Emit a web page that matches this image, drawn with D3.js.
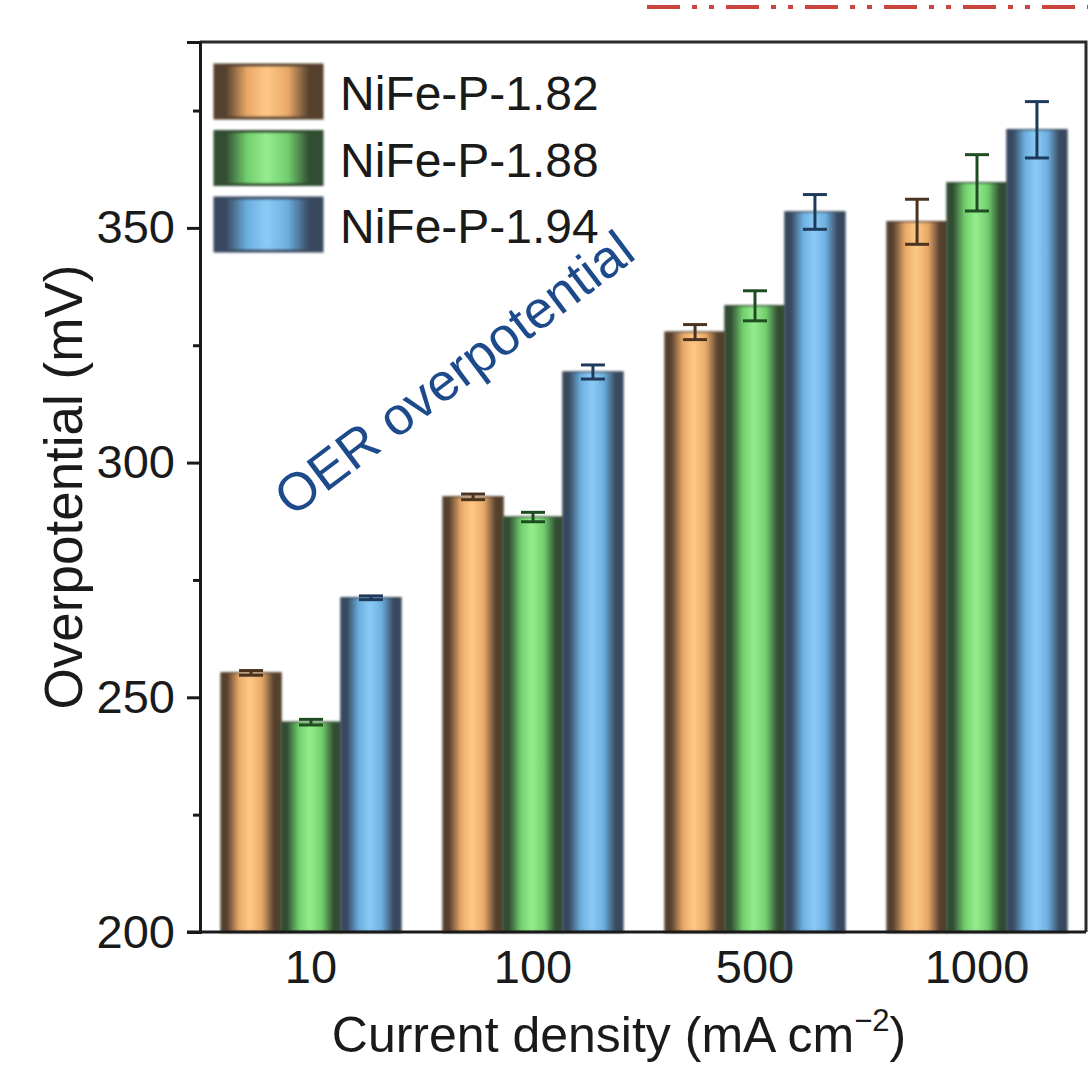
<!DOCTYPE html>
<html>
<head>
<meta charset="utf-8">
<script src="https://cdn.jsdelivr.net/npm/d3@7"></script>
<style>
  html, body { margin: 0; padding: 0; background: #ffffff; }
  svg { display: block; }
  text { font-family: "Liberation Sans", Arial, Helvetica, sans-serif; fill: #1a1a1a; }
</style>
</head>
<body>
<svg id="chart" width="1088" height="1070"></svg>
<script>
// Overpotential at each current density for three NiFe-P samples
const categories = ["10", "100", "500", "1000"];
const seriesNames = ["NiFe-P-1.82", "NiFe-P-1.88", "NiFe-P-1.94"];
const values182 = [255.2, 292.7, 327.8, 351.3];
const values188 = [244.7, 288.4, 333.4, 359.6];
const values194 = [271.2, 319.3, 353.4, 370.9];
const errors182 = [0.5, 0.6, 1.6, 4.8];
const errors188 = [0.6, 1.0, 3.2, 6.0];
const errors194 = [0.4, 1.5, 3.7, 6.0];
const majorTicks = [200, 250, 300, 350];
const minorTicks = [225, 275, 325, 375];

// fill palettes per series: edge, mid, highlight, error-bar colour
const palettes = [
  { id: "g182", edge: "#55402f", mid: "#eaa968", light: "#ffc887", err: "#4a3420" },
  { id: "g188", edge: "#324d33", mid: "#72d06e", light: "#96ec8e", err: "#1f4d22" },
  { id: "g194", edge: "#38495e", mid: "#6cafe0", light: "#8ccbf6", err: "#1e3a5a" }
];

const rows = categories.map((c, i) => ({
  cat: c,
  items: [
    { s: 0, v: values182[i], e: errors182[i] },
    { s: 1, v: values188[i], e: errors188[i] },
    { s: 2, v: values194[i], e: errors194[i] }
  ]
}));

const svg = d3.select("#chart");
const plotLeft = 200, plotRight = 1086, plotTop = 42, plotBottom = 932;

const x = d3.scaleBand().domain(categories).range([plotLeft, 1088]).paddingInner(0.19).paddingOuter(0.095);
const xs = d3.scaleBand().domain([0, 1, 2]).range([0, x.bandwidth()]);
const y = d3.scaleLinear().domain([200, 389.6]).range([plotBottom, plotTop]);

// cylinder-like shading gradients
const defs = svg.append("defs");
palettes.forEach(p => {
  const g = defs.append("linearGradient").attr("id", p.id)
    .attr("x1", "0%").attr("x2", "100%").attr("y1", "0%").attr("y2", "0%");
  [[0, p.edge], [0.1, p.edge], [0.3, p.mid], [0.48, p.light], [0.68, p.mid], [0.88, p.edge], [1, p.edge]]
    .forEach(([o, c]) => g.append("stop").attr("offset", o).attr("stop-color", c));
});
defs.append("filter").attr("id", "soft").append("feGaussianBlur").attr("stdDeviation", 0.8);

// decorative dash-dot rule along the top edge
svg.append("line")
  .attr("x1", 647).attr("x2", 1088).attr("y1", 7).attr("y2", 7)
  .attr("stroke", "#c9453d").attr("stroke-width", 4)
  .attr("stroke-dasharray", "33 12 5 12 5 12");

// bars
const groups = svg.append("g").selectAll("g").data(rows).join("g")
  .attr("transform", d => `translate(${x(d.cat)},0)`);

groups.selectAll("rect").data(d => d.items).join("rect")
  .attr("x", d => xs(d.s))
  .attr("width", xs.bandwidth())
  .attr("y", d => y(d.v))
  .attr("height", d => y(200) - y(d.v))
  .attr("fill", d => `url(#${palettes[d.s].id})`)
  .attr("stroke", d => palettes[d.s].edge)
  .attr("stroke-width", 1.5)
  .attr("filter", "url(#soft)");

// error bars
const eb = groups.selectAll("g.err").data(d => d.items).join("g").attr("class", "err")
  .attr("stroke", d => palettes[d.s].err).attr("stroke-width", 3);
eb.append("line")
  .attr("x1", d => xs(d.s) + xs.bandwidth() / 2).attr("x2", d => xs(d.s) + xs.bandwidth() / 2)
  .attr("y1", d => y(d.v + d.e)).attr("y2", d => y(d.v - d.e));
eb.append("line")
  .attr("x1", d => xs(d.s) + xs.bandwidth() / 2 - 12).attr("x2", d => xs(d.s) + xs.bandwidth() / 2 + 12)
  .attr("y1", d => y(d.v + d.e)).attr("y2", d => y(d.v + d.e));
eb.append("line")
  .attr("x1", d => xs(d.s) + xs.bandwidth() / 2 - 12).attr("x2", d => xs(d.s) + xs.bandwidth() / 2 + 12)
  .attr("y1", d => y(d.v - d.e)).attr("y2", d => y(d.v - d.e));

// frame: top and right edges
svg.append("path")
  .attr("d", `M${plotLeft},${plotTop}H${plotRight}V${plotBottom}`)
  .attr("fill", "none").attr("stroke", "#2a2a2a").attr("stroke-width", 3);

// left axis with major and minor ticks
const yAxis = svg.append("g").attr("transform", `translate(${plotLeft},0)`)
  .call(d3.axisLeft(y).tickValues(majorTicks).tickSize(13).tickPadding(12).tickFormat(d3.format("d")));
svg.append("g").attr("transform", `translate(${plotLeft},0)`)
  .call(d3.axisLeft(y).tickValues(minorTicks).tickSize(7).tickFormat(""))
  .call(g => g.select(".domain").remove());
svg.selectAll(".tick line").attr("stroke", "#1a1a1a").attr("stroke-width", 3);
yAxis.select(".domain").attr("stroke", "#1a1a1a").attr("stroke-width", 3);
yAxis.selectAll(".tick text").attr("font-size", 47).attr("fill", "#1a1a1a")
  .style("font-family", "'Liberation Sans', Arial, sans-serif");

// bottom axis (category labels, no tick marks)
const xAxis = svg.append("g").attr("transform", `translate(0,${plotBottom})`)
  .call(d3.axisBottom(x).tickSize(0).tickPadding(18));
xAxis.select(".domain").attr("d", `M${plotLeft - 13},0H${plotRight}`).attr("stroke", "#1a1a1a").attr("stroke-width", 3);
xAxis.selectAll(".tick text").attr("font-size", 47).attr("fill", "#1a1a1a")
  .style("font-family", "'Liberation Sans', Arial, sans-serif");

// axis titles
const xt = svg.append("text").attr("x", 619).attr("y", 1052).attr("text-anchor", "middle").attr("font-size", 50);
xt.append("tspan").text("Current density (mA cm");
xt.append("tspan").attr("font-size", 31).attr("dy", -21).text("\u22122");
xt.append("tspan").attr("dy", 21).text(")");

svg.append("text")
  .attr("transform", "translate(82,487) rotate(-90)")
  .attr("text-anchor", "middle").attr("font-size", 53)
  .text("Overpotential (mV)");

// legend
const legend = svg.append("g").selectAll("g").data(seriesNames).join("g")
  .attr("transform", (d, i) => `translate(215,${65 + i * 66.5})`);
legend.append("rect").attr("width", 107).attr("height", 53)
  .attr("fill", (d, i) => `url(#${palettes[i].id})`)
  .attr("stroke", (d, i) => palettes[i].edge).attr("stroke-width", 3)
  .attr("filter", "url(#soft)");
legend.append("text").attr("x", 125).attr("y", 45).attr("font-size", 48).text(d => d);

// annotation
svg.append("text")
  .attr("transform", "translate(292,518) rotate(-37)")
  .attr("font-size", 53).style("fill", "#1d4a8a")
  .text("OER overpotential");
</script>
</body>
</html>
